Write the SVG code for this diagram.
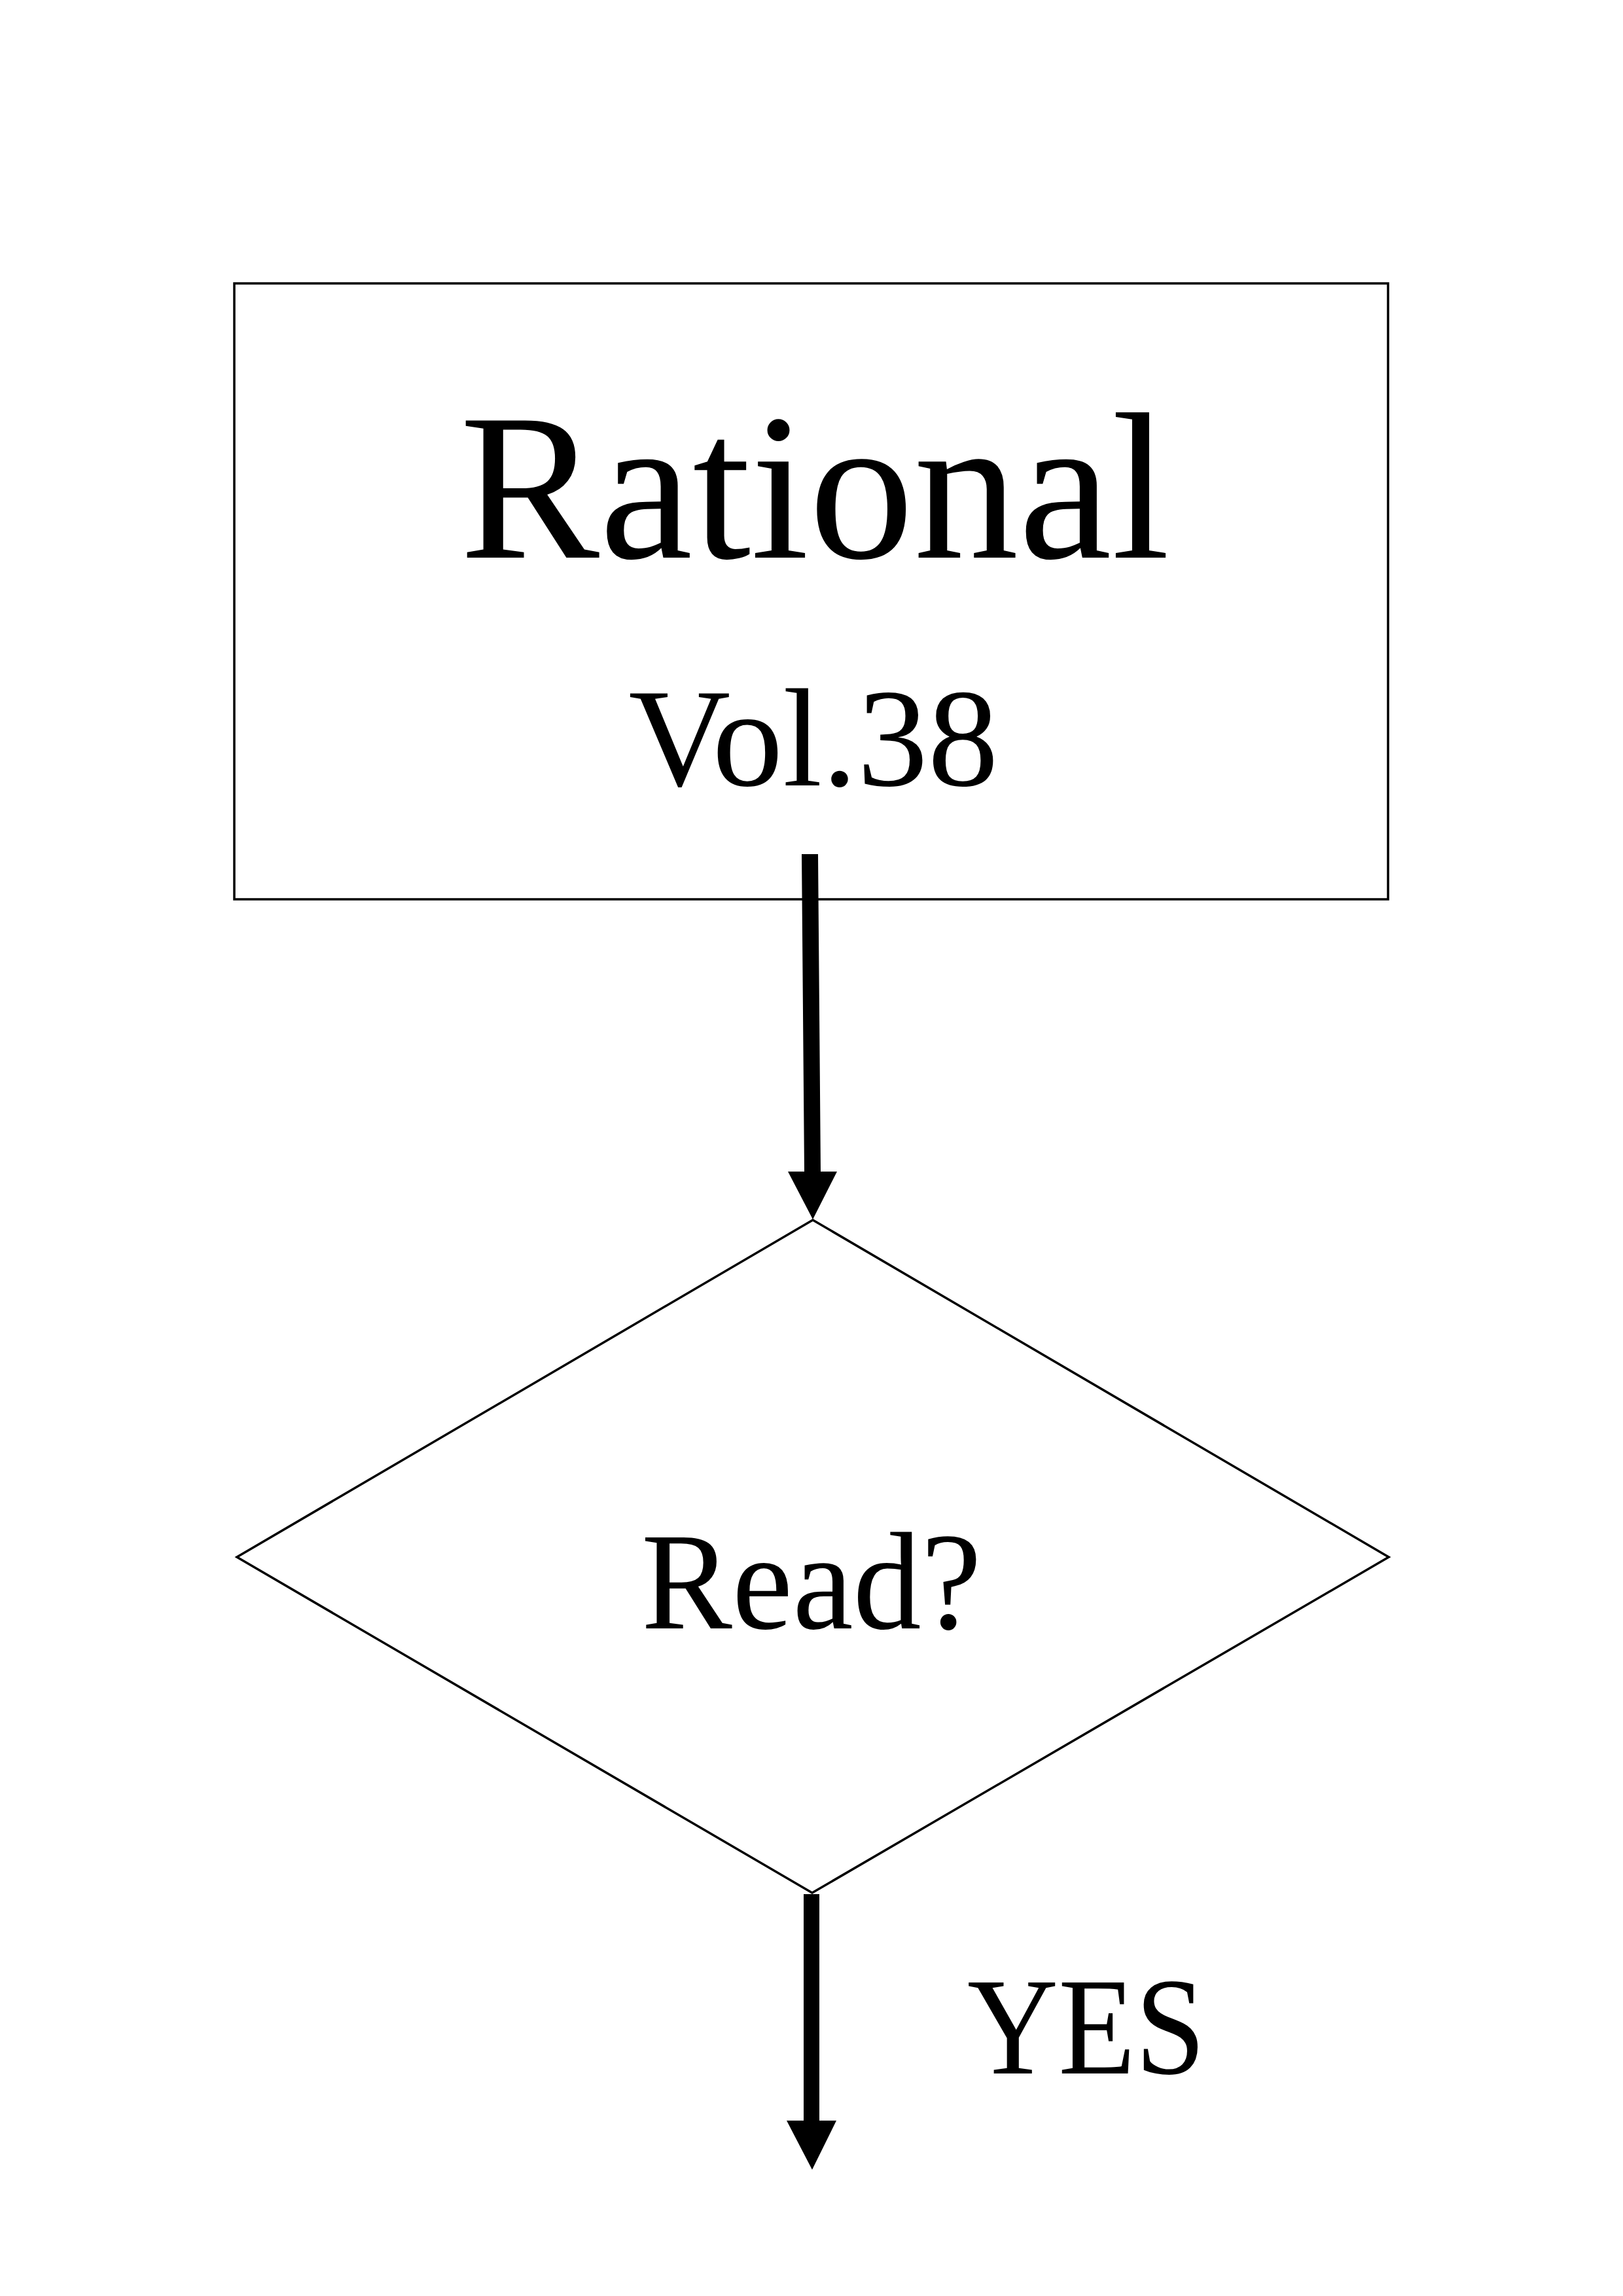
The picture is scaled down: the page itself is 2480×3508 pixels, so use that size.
<svg xmlns="http://www.w3.org/2000/svg" width="2480" height="3508" viewBox="0 0 2480 3508">
<style>
.shape{fill:#fff;stroke:#000;stroke-width:3.5}
.lbl{font-family:"Liberation Serif","Times New Roman",serif;fill:#000;text-anchor:middle}
.conn{fill:#000;stroke:none}
</style>
<rect width="2480" height="3508" fill="#fff"/>
<g id="node-rational">
<rect class="shape" x="358" y="433" width="1763" height="941" stroke-width="3"/>
<text class="lbl" x="1245" y="852" font-size="320" textLength="1085" lengthAdjust="spacingAndGlyphs">Rational</text>
<text class="lbl" x="1243" y="1200" font-size="215" textLength="565" lengthAdjust="spacingAndGlyphs">Vol.38</text>
</g>
<g id="node-read">
<polygon class="shape" points="1242,1864 2122,2379 1241,2892 362,2379"/>
<text class="lbl" x="1240" y="2488" font-size="213" textLength="520" lengthAdjust="spacingAndGlyphs">Read?</text>
</g>
<g id="connectors">
<polygon class="conn" points="1225,1305 1250,1305 1254,1790 1279,1790 1242,1863 1204,1790 1229,1790"/>
<polygon class="conn" points="1228,2894 1252,2894 1252,3240 1278,3240 1241,3315 1202,3240 1228,3240"/>
<text class="lbl" x="1478" y="3168" font-size="213" text-anchor="start" style="text-anchor:start" textLength="364" lengthAdjust="spacingAndGlyphs">YES</text>
</g>
</svg>
